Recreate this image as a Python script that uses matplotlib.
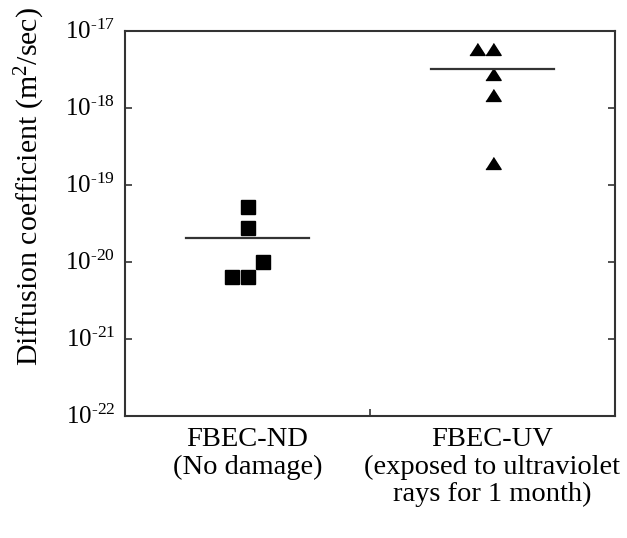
import matplotlib
matplotlib.use("Agg")
import matplotlib.pyplot as plt
import matplotlib.transforms as mtransforms
import numpy as np
from matplotlib.ticker import FixedLocator, NullLocator

plt.rcParams['font.family'] = ['Liberation Serif', 'DejaVu Serif']
plt.rcParams['mathtext.fontset'] = 'custom'
plt.rcParams['mathtext.rm'] = 'Liberation Serif'
plt.rcParams['mathtext.it'] = 'Liberation Serif:italic'
plt.rcParams['mathtext.bf'] = 'Liberation Serif:bold'

categories = ["FBEC-ND\n(No damage)", "FBEC-UV\n(exposed to ultraviolet\nrays for 1 month)"]
group_pos = [0.5, 1.5]

nd_offsets = [0.0, 0.0, -0.065, 0.0, 0.065]
nd_values = [5.25e-20, 2.8e-20, 6.3e-21, 6.3e-21, 9.9e-21]

uv_offsets = [-0.062, 0.0, 0.0, 0.0, 0.0]
uv_values = [5.85e-18, 5.85e-18, 2.77e-18, 1.48e-18, 1.95e-19]

y_ticks = [1e-22, 1e-21, 1e-20, 1e-19, 1e-18, 1e-17]
y_ticklabels = [r"$10^{\text{-22}}$", r"$10^{\text{-21}}$", r"$10^{\text{-20}}$",
                r"$10^{\text{-19}}$", r"$10^{\text{-18}}$", r"$10^{\text{-17}}$"]

fig = plt.figure(figsize=(6.27, 5.38), dpi=100)
ax = fig.add_axes([125/627, (538-416)/538, (615-125)/627, (416-31)/538])

tri = [(-1.0, -0.78), (1.0, -0.78), (0.0, 0.78)]

ax.plot(np.array(nd_offsets) + group_pos[0], nd_values, linestyle='none', marker='s',
        markersize=10.5, color='black')
ax.plot(np.array(uv_offsets) + group_pos[1], uv_values, linestyle='none', marker=tri,
        markersize=11, color='black')

for pos, vals in zip(group_pos, [nd_values, uv_values]):
    m = np.mean(vals)
    ax.plot([pos - 0.25, pos + 0.25], [m, m], color='#333333', linewidth=1.6)

ax.set_yscale('log')
ax.set_ylim(1e-22, 1e-17)
ax.set_xlim(0, 2)

ax.yaxis.set_major_locator(FixedLocator(y_ticks))
ax.yaxis.set_minor_locator(NullLocator())
ax.set_yticklabels(y_ticklabels)

ax.xaxis.set_major_locator(FixedLocator([1.0]))
ax.set_xticklabels([''])
ax.xaxis.set_minor_locator(FixedLocator(group_pos))
ax.set_xticklabels(categories, minor=True)

ax.tick_params(axis='y', which='major', direction='in', length=5, width=1.2,
               right=True, labelsize=18, pad=7, colors='#333333', labelcolor='black')
ax.tick_params(axis='x', which='major', direction='in', length=5, width=1.2, colors='#333333')
ax.tick_params(axis='x', which='minor', length=0, labelsize=20.5, pad=8)
for lbl in ax.get_xticklabels(minor=True):
    lbl.set_linespacing(1.12)

shift = mtransforms.ScaledTranslation(0, 2/100, fig.dpi_scale_trans)
for lbl in ax.get_yticklabels():
    lbl.set_transform(lbl.get_transform() + shift)

for s in ax.spines.values():
    s.set_linewidth(1.5)
    s.set_color('#333333')

ax.set_ylabel("Diffusion coefficient (m$^2$/sec)", fontsize=21.5, labelpad=13)
ax.yaxis.label.set_y(0.596)

fig.savefig("out.png", dpi=100)
